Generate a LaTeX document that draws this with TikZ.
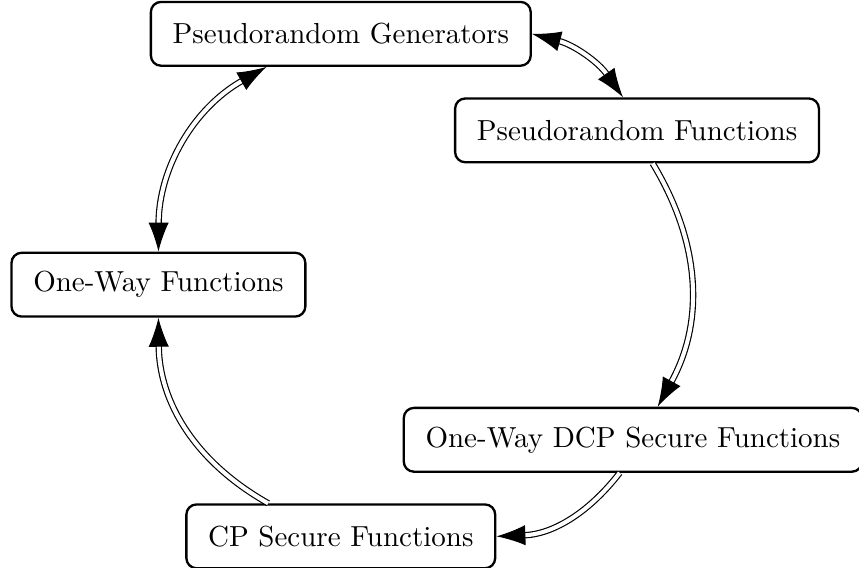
\documentclass[tikz,border=0pt]{standalone}
\usepackage{xcolor}
\usepackage{tikz}
\usetikzlibrary{positioning, arrows.meta}
\tikzset{
  primbox/.style={draw, thick, rounded corners=3.5pt, inner xsep=7.5pt,
    minimum height=22pt},
  implies/.style={double, thin, double distance=1.4pt, -{Latex[length=10pt, width=7pt]}},
  iff/.style={double, thin, double distance=1.4pt, {Latex[length=10pt, width=7pt]}-{Latex[length=10pt, width=7pt]}}
}

\begin{document}
\begin{tikzpicture}
  \useasboundingbox (0,0) rectangle (10.41,-6.88);
  \node[primbox] (prg) at (4.13,-0.41) {Pseudorandom Generators};
  \node[primbox] (prf) at (7.72,-1.58) {Pseudorandom Functions};
  \node[primbox] (owf) at (1.92,-3.45) {One-Way Functions};
  \node[primbox] (dcp) at (7.67,-5.33) {One-Way DCP Secure Functions};
  \node[primbox] (cp)  at (4.13,-6.50) {CP Secure Functions};

  \draw[iff] (prg.east) to[bend left=20] ([xshift=-0.17cm]prf.north);
  \draw[iff] ([xshift=-0.9cm]prg.south) to[bend right=30] (owf.north);
  \draw[implies] ([xshift=0.19cm]prf.south) to[bend left=30] ([xshift=0.3cm]dcp.north);
  \draw[implies] ([xshift=-0.16cm]dcp.south) to[bend left=25] (cp.east);
  \draw[implies] ([xshift=-0.88cm]cp.north) to[bend left=30] (owf.south);
\end{tikzpicture}
\end{document}
